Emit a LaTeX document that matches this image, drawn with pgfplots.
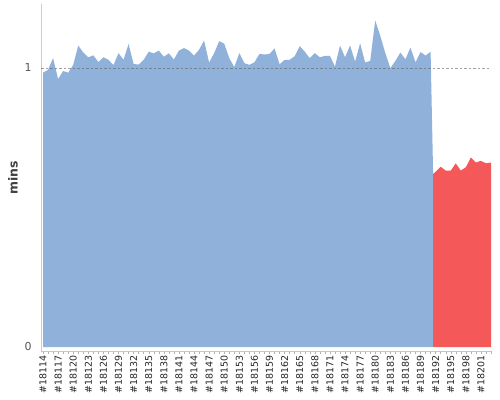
\documentclass[border=0pt]{standalone}
\usepackage{pgfplots}
\pgfplotsset{compat=1.18}
\usepackage{pgfplotstable}
\usepackage{fontspec}
\setmainfont{DejaVu Sans}
\definecolor{areablue}{RGB}{143,177,218}
\definecolor{areared}{RGB}{244,88,88}
\definecolor{labgray}{RGB}{85,85,85}
\pgfplotstableread{
x y
0 0
0 0.983
1 0.993
2 1.035
3 0.960
4 0.989
5 0.983
6 1.011
7 1.080
8 1.055
9 1.038
10 1.045
11 1.021
12 1.038
13 1.029
14 1.010
15 1.053
16 1.029
17 1.086
18 1.014
19 1.012
20 1.029
21 1.058
22 1.052
23 1.062
24 1.040
25 1.052
26 1.030
27 1.062
28 1.071
29 1.062
30 1.044
31 1.065
32 1.098
33 1.019
34 1.053
35 1.096
36 1.087
37 1.035
38 1.003
39 1.053
40 1.017
41 1.011
42 1.020
43 1.050
44 1.048
45 1.050
46 1.070
47 1.013
48 1.029
49 1.029
50 1.042
51 1.078
52 1.058
53 1.035
54 1.053
55 1.038
56 1.043
57 1.043
58 1.005
59 1.080
60 1.038
61 1.080
62 1.023
63 1.088
64 1.019
65 1.025
66 1.170
67 1.115
68 1.053
69 0.999
70 1.025
71 1.055
72 1.031
73 1.073
74 1.020
75 1.057
76 1.044
77 1.058
77.5 0.620
77.5 0
}\bluedata
\pgfplotstableread{
x y
77.5 0
77.5 0.620
78 0.628
79 0.646
80 0.632
81 0.632
82 0.658
83 0.632
84 0.644
85 0.679
86 0.661
87 0.667
88 0.658
89 0.661
89 0
}\reddata
\begin{document}
\begin{tikzpicture}
\useasboundingbox (0,0) rectangle (500bp,400bp);
\begin{axis}[
  at={(41bp,49bp)}, anchor=south west,
  scale only axis, width=450bp, height=347bp,
  xmin=-0.4, xmax=89, ymin=-0.0143, ymax=1.229,
  axis x line*=bottom, axis y line*=left,
  x axis line style={gray!45, line width=0.5pt},
  y axis line style={gray!40, line width=0.8pt},
  xtick={0,3,...,87},
  minor xtick={0,1,...,89},
  xticklabels={\#18114,\#18117,\#18120,\#18123,\#18126,\#18129,\#18132,\#18135,\#18138,\#18141,\#18144,\#18147,\#18150,\#18153,\#18156,\#18159,\#18162,\#18165,\#18168,\#18171,\#18174,\#18177,\#18180,\#18183,\#18186,\#18189,\#18192,\#18195,\#18198,\#18201},
  xticklabel style={rotate=90, anchor=east, font=\fontsize{9.5}{11}\selectfont, text=black!85, inner sep=1.5pt},
  tick align=outside,
  major tick length=3bp, minor tick length=3bp,
  x tick style={gray!60, line width=0.4pt},
  ytick={0,1},
  y tick style={draw=none},
  yticklabel style={font=\fontsize{11}{13}\selectfont, text=labgray, xshift=-3bp},
  /pgf/number format/assume math mode=true,
  ylabel={mins},
  ylabel style={at={(axis description cs:-0.062,0.5)}, anchor=center, font=\bfseries\fontsize{12.5}{14}\selectfont, text=black!75},
]
\addplot[fill=areablue, draw=none] table[x=x,y=y] {\bluedata} -- cycle;
\addplot[fill=areared, draw=none] table[x=x,y=y] {\reddata} -- cycle;
\draw[gray!80!black, opacity=0.6, dash pattern=on 2.5bp off 2bp, line width=0.5pt] (axis cs:-0.4,1) -- (axis cs:89,1);
\end{axis}
\end{tikzpicture}
\end{document}
